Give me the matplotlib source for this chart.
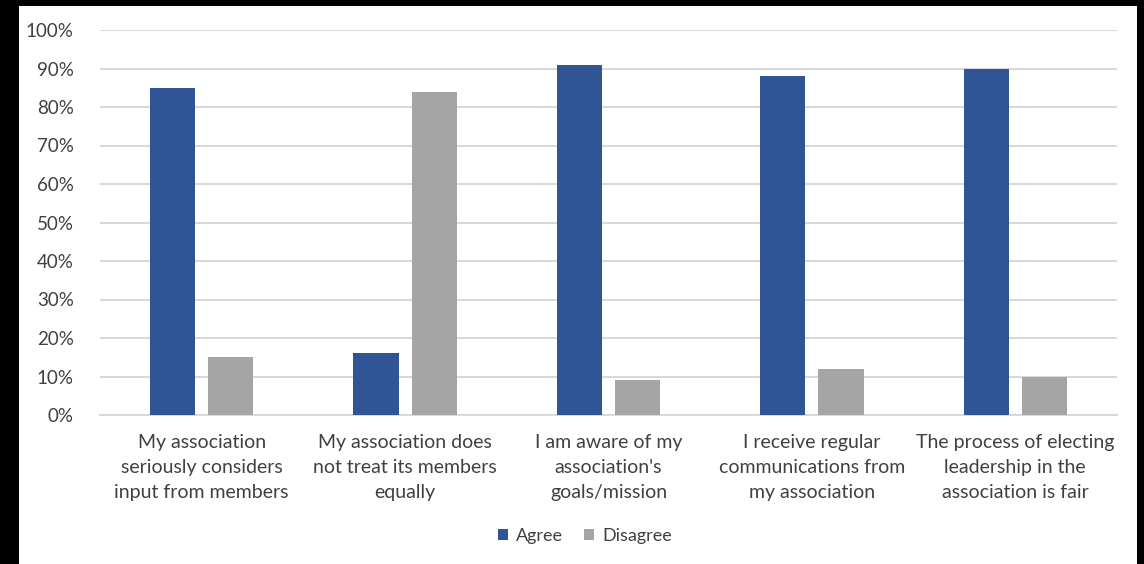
import matplotlib.pyplot as plt
import matplotlib.patches as mpatches
import numpy as np

categories = [
    "My association\nseriously considers\ninput from members",
    "My association does\nnot treat its members\nequally",
    "I am aware of my\nassociation's\ngoals/mission",
    "I receive regular\ncommunications from\nmy association",
    "The process of electing\nleadership in the\nassociation is fair",
]
agree = [85, 16, 91, 88, 90]
disagree = [15, 84, 9, 12, 10]
series_names = ["Agree", "Disagree"]
yticks = [0, 10, 20, 30, 40, 50, 60, 70, 80, 90, 100]

plt.rcParams['font.family'] = ['Lato', 'DejaVu Sans']

fig = plt.figure(figsize=(11.44, 5.64), dpi=100)
fig.patch.set_facecolor('black')
# white chart area inside the black frame
fig.patches.append(mpatches.Rectangle((19 / 1144, 0), (1137 - 19) / 1144, (564 - 6) / 564,
                                      transform=fig.transFigure, facecolor='white',
                                      edgecolor='none', zorder=-10))

ax = fig.add_axes([100 / 1144, (564 - 415) / 564, (1117 - 100) / 1144, (415 - 30) / 564])
ax.set_facecolor('white')

x = np.arange(len(categories))
w = 0.222
off = 0.143
ax.bar(x - off, agree, w, color='#2F5597', label=series_names[0], zorder=3)
ax.bar(x + off, disagree, w, color='#A5A5A5', label=series_names[1], zorder=3)

ax.set_xlim(-0.5, len(categories) - 0.5)
ax.set_ylim(0, 100)
ax.set_yticks(yticks)
ax.set_yticklabels([f"{v}%" for v in yticks], fontsize=13.5, color='#404040')
ax.set_xticks(x)
ax.set_xticklabels(categories, fontsize=14, color='#404040', linespacing=1.55)
ax.tick_params(axis='both', length=0)
ax.tick_params(axis='x', pad=14)
ax.tick_params(axis='y', pad=19)
ax.grid(axis='y', color='#D9D9D9', linewidth=1.5, zorder=0)
for s in ['top', 'right', 'left']:
    ax.spines[s].set_visible(False)
ax.spines['bottom'].set_color('#D9D9D9')
ax.spines['bottom'].set_linewidth(1.5)

fig.legend(loc='center', bbox_to_anchor=(585 / 1144, (564 - 536) / 564), ncol=2,
           frameon=False, fontsize=13, handlelength=0.55, handleheight=0.55,
           handletextpad=0.45, columnspacing=1.2, labelcolor='#404040')

fig.savefig('out.png', dpi=100, facecolor=fig.get_facecolor())
